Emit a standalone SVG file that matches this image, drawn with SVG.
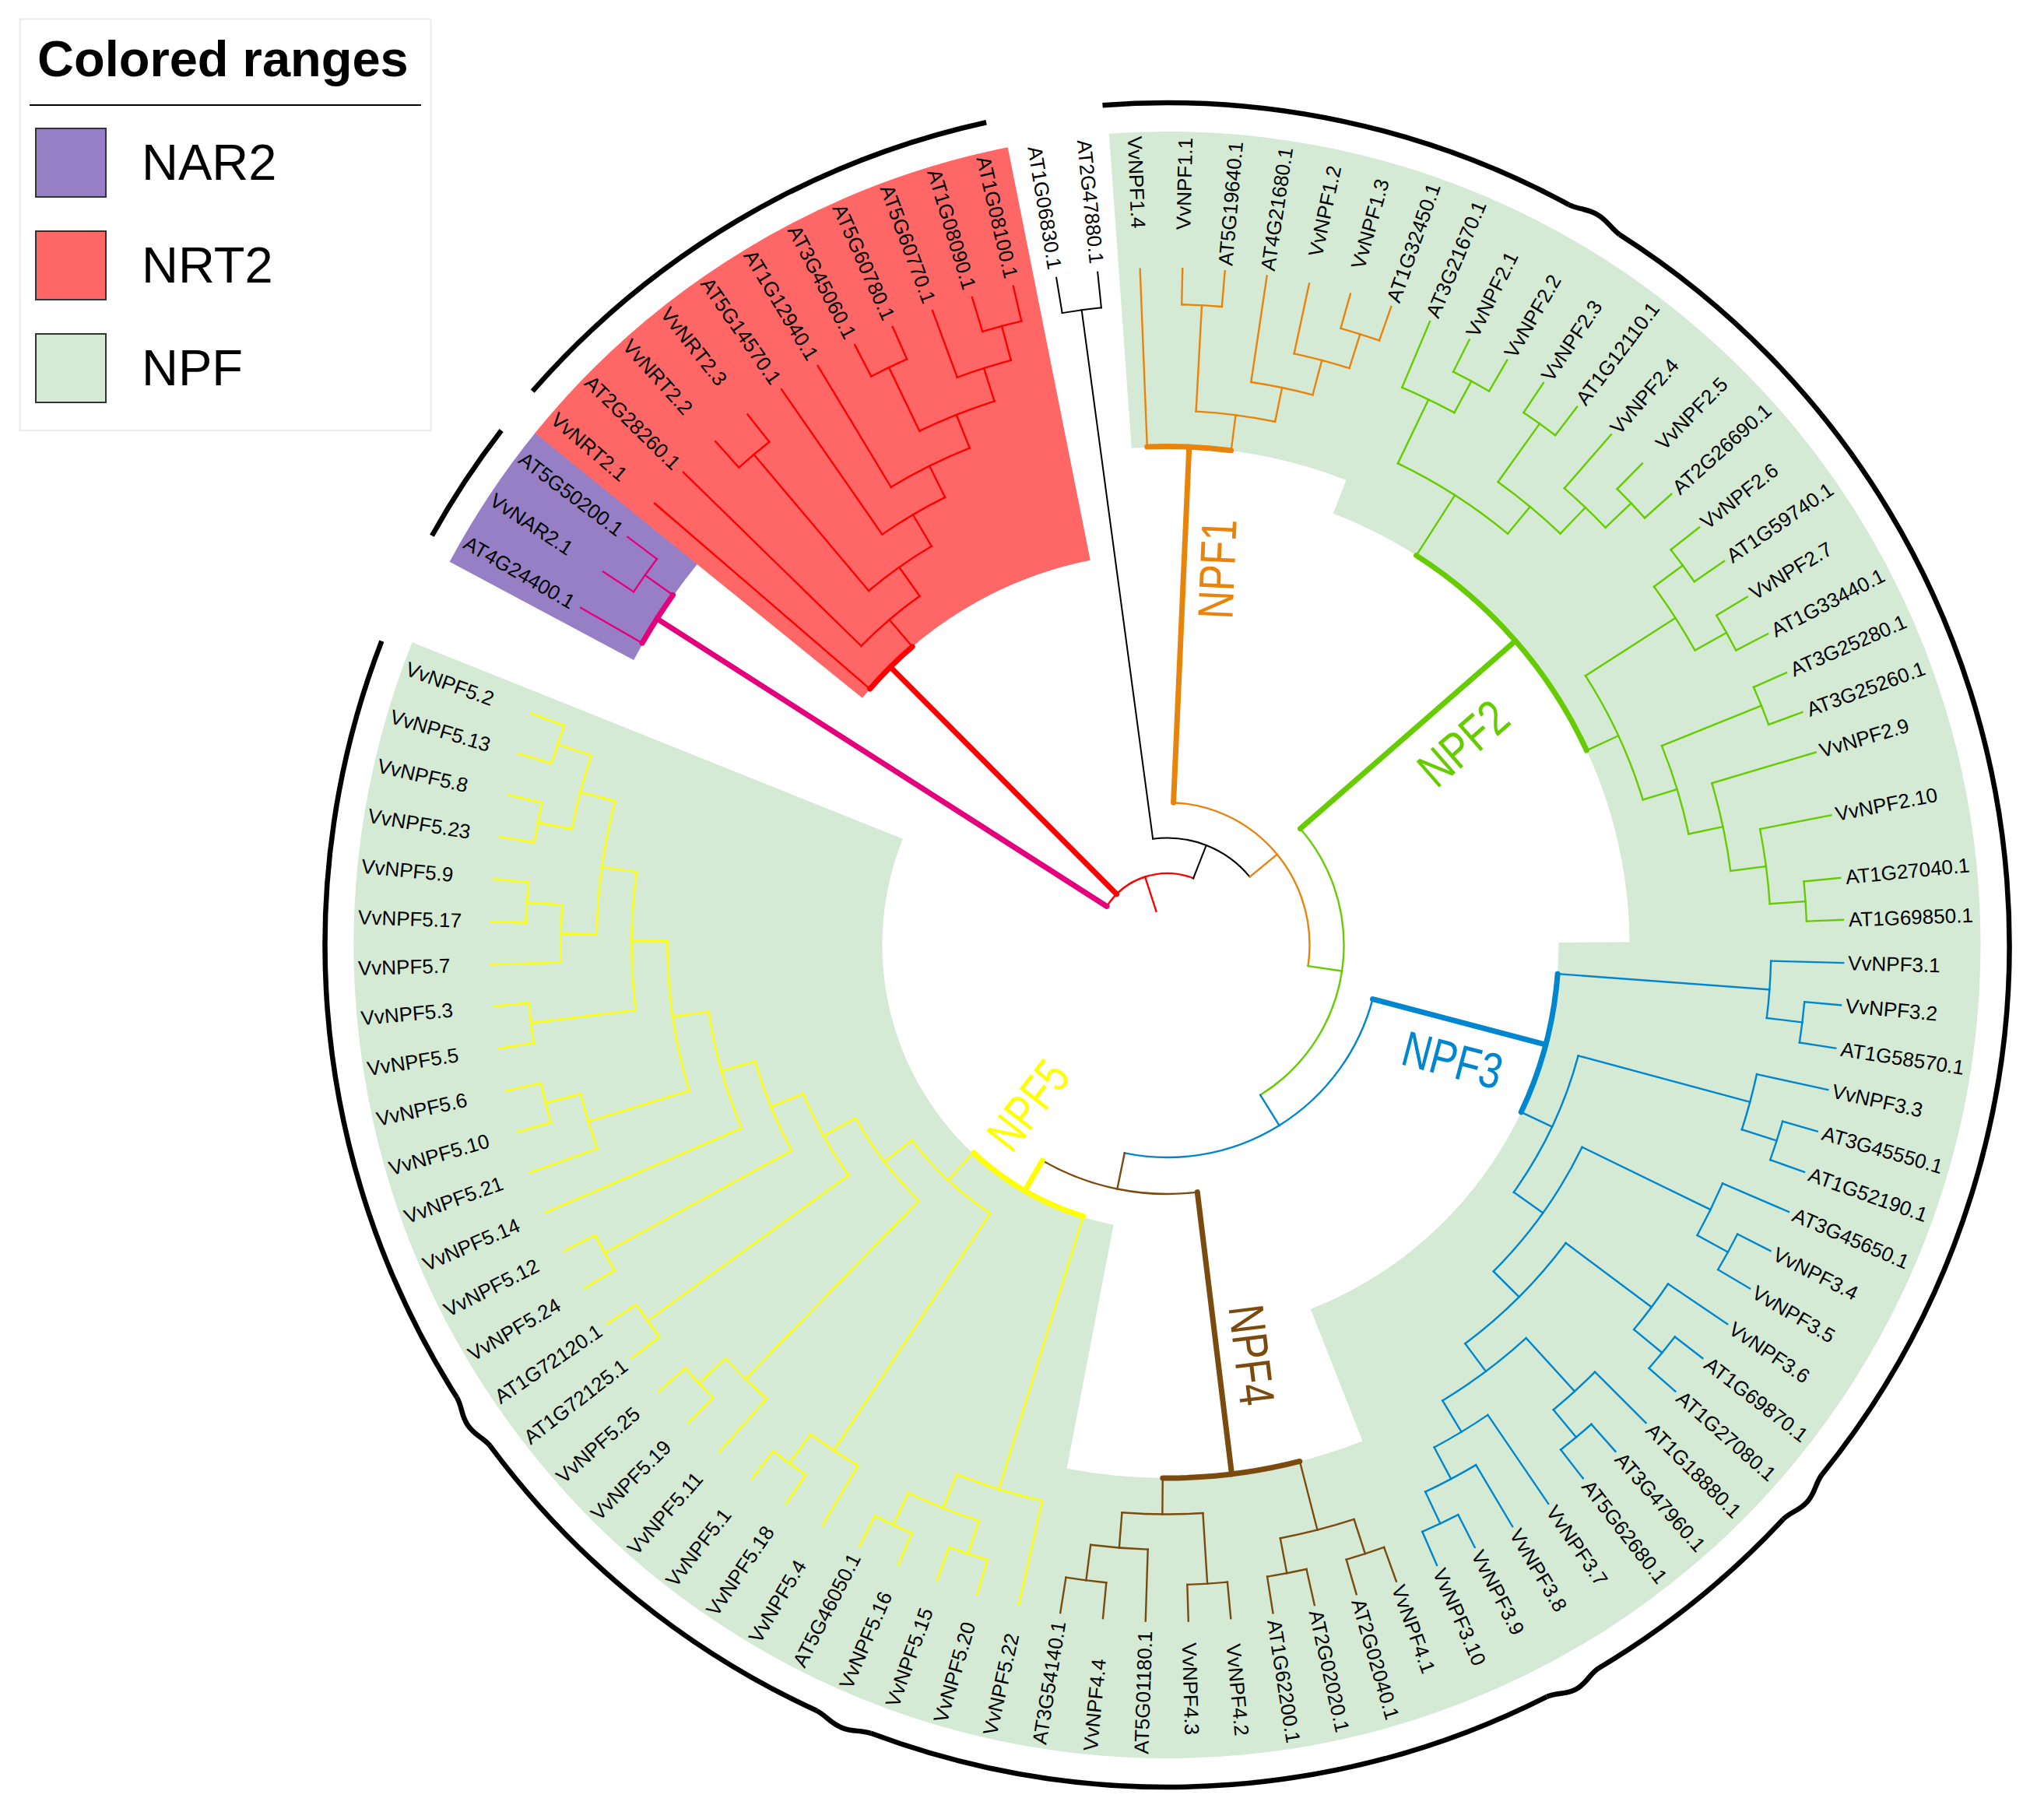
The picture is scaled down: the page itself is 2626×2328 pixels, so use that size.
<svg xmlns="http://www.w3.org/2000/svg" width="2626" height="2328" viewBox="0 0 2626 2328">
<style>
text{font-family:"Liberation Sans",Arial,Helvetica,sans-serif}
.lb text{font-size:26px;dominant-baseline:central;fill:#000}
.cl{font-size:64px;text-anchor:middle;dominant-baseline:central}
.k{stroke-width:7px;stroke-linecap:round}
</style>
<rect width="2626" height="2328" fill="#fff"/>
<g id="legend">
<rect x="25.5" y="24.5" width="528" height="528.5" fill="#fff" stroke="#ebebeb" stroke-width="2"/>
<text x="48" y="98" font-size="65" font-weight="bold">Colored ranges</text>
<line x1="38" y1="135" x2="541" y2="135" stroke="#000" stroke-width="2"/>
<rect x="46" y="165" width="90" height="88" fill="#977fc6" stroke="#333" stroke-width="2"/>
<text x="182" y="231" font-size="65">NAR2</text>
<rect x="46" y="297" width="90" height="88" fill="#ff6666" stroke="#333" stroke-width="2"/>
<text x="182" y="363" font-size="65">NRT2</text>
<rect x="46" y="429" width="90" height="88" fill="#d4ead4" stroke="#333" stroke-width="2"/>
<text x="182" y="495" font-size="65">NPF</text>
</g>
<g id="tree" transform="translate(1499.5 1214)">
<g id="ranges" fill="none">
<circle r="911" stroke="#977fc6" stroke-width="268" pathLength="360" stroke-dasharray="10.95 360" transform="rotate(-151.9)"/>
<circle r="774.5" stroke="#ff6666" stroke-width="541" pathLength="360" stroke-dasharray="39.7 360" transform="rotate(-141)"/>
<circle r="842.5" stroke="#d4ead4" stroke-width="405" pathLength="360" stroke-dasharray="25.2 360" transform="rotate(-94.1)"/>
<circle r="819.5" stroke="#d4ead4" stroke-width="451" pathLength="360" stroke-dasharray="68.7 360" transform="rotate(-68.95)"/>
<circle r="774" stroke="#d4ead4" stroke-width="542" pathLength="360" stroke-dasharray="68.85 360" transform="rotate(-0.35)"/>
<circle r="865" stroke="#d4ead4" stroke-width="360" pathLength="360" stroke-dasharray="32.55 360" transform="rotate(68.4)"/>
<circle r="705.5" stroke="#d4ead4" stroke-width="679" pathLength="360" stroke-dasharray="101 360" transform="rotate(100.85)"/>
</g>
<g id="outer-arcs" fill="none" stroke="#000" stroke-width="6.5">
<circle r="1081" pathLength="360" stroke-dasharray="8.6 360" transform="rotate(-150.9)"/>
<circle r="1082" pathLength="360" stroke-dasharray="36.5 360" transform="rotate(-138.9)"/>
<circle r="1082" pathLength="360" stroke-dasharray="32.9 4 96.5 4 16.2 4 47.4 4 28.9 4 53.65 70" transform="rotate(-94.4)"/>
<path d="M1081.3,-37.8C1083,-22 1089,-16 1089,0C1089,16 1083,22 1081.3,37.8" transform="rotate(-59.5)"/>
<path d="M1081.3,-37.8C1083,-22 1090,-16 1090,0C1090,16 1083,22 1081.3,37.8" transform="rotate(41)"/>
<path d="M1081.3,-37.8C1083,-22 1091,-16 1091,0C1091,16 1083,22 1081.3,37.8" transform="rotate(61.2)"/>
<path d="M1081.3,-37.8C1083,-22 1089,-16 1089,0C1089,16 1083,22 1081.3,37.8" transform="rotate(112.6)"/>
<path d="M1081.3,-37.8C1083,-22 1090,-16 1090,0C1090,16 1083,22 1081.3,37.8" transform="rotate(145.5)"/>
</g>
<g id="connectors" fill="none" stroke-width="2.4" stroke-linecap="square">
<g id="br-root" stroke="#ff0000">
<circle r="92" pathLength="360" stroke-dasharray="78.82 360" transform="rotate(-147.4)"/>
<line x1="45.5" x2="92" transform="rotate(-108)"/>
<line class="k" x1="92" x2="504" transform="rotate(-134.88)"/>
<circle class="k" r="504" pathLength="360" stroke-dasharray="8.74 360" transform="rotate(-139.25)"/>
<line x1="504" x2="549.5" transform="rotate(-130.51)"/>
<circle r="549.5" pathLength="360" stroke-dasharray="10.32 360" transform="rotate(-135.67)"/>
<line x1="549.5" x2="595" transform="rotate(-125.35)"/>
<circle r="595" pathLength="360" stroke-dasharray="9.54 360" transform="rotate(-130.12)"/>
<line x1="595" x2="824" transform="rotate(-130.12)"/>
<circle r="824" pathLength="360" stroke-dasharray="3.55 360" transform="rotate(-131.89)"/>
<line x1="595" x2="642" transform="rotate(-120.58)"/>
<circle r="642" pathLength="360" stroke-dasharray="8.38 360" transform="rotate(-124.77)"/>
<line x1="642" x2="687" transform="rotate(-116.39)"/>
<circle r="687" pathLength="360" stroke-dasharray="9.42 360" transform="rotate(-121.1)"/>
<line x1="687" x2="733" transform="rotate(-111.68)"/>
<circle r="733" pathLength="360" stroke-dasharray="8.1 360" transform="rotate(-115.73)"/>
<line x1="733" x2="823.5" transform="rotate(-115.73)"/>
<circle r="823.5" pathLength="360" stroke-dasharray="3.55 360" transform="rotate(-117.5)"/>
<line x1="733" x2="777.5" transform="rotate(-107.63)"/>
<circle r="777.5" pathLength="360" stroke-dasharray="5.34 360" transform="rotate(-110.3)"/>
<line x1="777.5" x2="823" transform="rotate(-104.96)"/>
<circle r="823" pathLength="360" stroke-dasharray="3.61 360" transform="rotate(-106.76)"/>
<line x1="504" x2="869" transform="rotate(-139.25)"/>
<line x1="549.5" x2="869" transform="rotate(-135.67)"/>
<line x1="824" x2="869" transform="rotate(-131.89)"/>
<line x1="824" x2="869" transform="rotate(-128.34)"/>
<line x1="642" x2="869" transform="rotate(-124.77)"/>
<line x1="687" x2="869" transform="rotate(-121.1)"/>
<line x1="823.5" x2="869" transform="rotate(-117.5)"/>
<line x1="823.5" x2="869" transform="rotate(-113.95)"/>
<line x1="777.5" x2="869" transform="rotate(-110.3)"/>
<line x1="823" x2="869" transform="rotate(-106.76)"/>
<line x1="823" x2="869" transform="rotate(-103.15)"/>
</g>
<g id="br-nar2" stroke="#e4007c">
<line class="k" x1="92" x2="778" transform="rotate(-147.4)"/>
<circle class="k" r="778" pathLength="360" stroke-dasharray="5.4 360" transform="rotate(-150.1)"/>
<line x1="778" x2="822" transform="rotate(-144.7)"/>
<circle r="822" pathLength="360" stroke-dasharray="3.6 360" transform="rotate(-146.5)"/>
<line x1="778" x2="869" transform="rotate(-150.1)"/>
<line x1="822" x2="869" transform="rotate(-146.5)"/>
<line x1="822" x2="869" transform="rotate(-142.9)"/>
</g>
<g id="br-other" stroke="#000" stroke-width="2">
<line x1="92" x2="137.5" transform="rotate(-68.58)"/>
<circle r="137.5" pathLength="360" stroke-dasharray="58.19 360" transform="rotate(-97.67)"/>
<line x1="137.5" x2="823" transform="rotate(-97.67)"/>
<circle r="823" pathLength="360" stroke-dasharray="3.53 360" transform="rotate(-99.43)"/>
<line x1="823" x2="869" transform="rotate(-99.43)"/>
<line x1="823" x2="869" transform="rotate(-95.9)"/>
</g>
<g id="br-npf1" stroke="#e8830c">
<line x1="137.5" x2="183" transform="rotate(-39.48)"/>
<circle r="183" pathLength="360" stroke-dasharray="95.99 360" transform="rotate(-87.47)"/>
<line class="k" x1="183" x2="640.5" transform="rotate(-87.47)"/>
<circle class="k" r="640.5" pathLength="360" stroke-dasharray="9.67 360" transform="rotate(-92.3)"/>
<line x1="640.5" x2="686.4" transform="rotate(-82.63)"/>
<circle r="686.4" pathLength="360" stroke-dasharray="8.55 360" transform="rotate(-86.9)"/>
<line x1="686.4" x2="823" transform="rotate(-86.9)"/>
<circle r="823" pathLength="360" stroke-dasharray="3.6 360" transform="rotate(-88.7)"/>
<line x1="686.4" x2="731" transform="rotate(-78.35)"/>
<circle r="731" pathLength="360" stroke-dasharray="6.34 360" transform="rotate(-81.52)"/>
<line x1="731" x2="777" transform="rotate(-75.18)"/>
<circle r="777" pathLength="360" stroke-dasharray="5.41 360" transform="rotate(-77.88)"/>
<line x1="777" x2="823" transform="rotate(-72.47)"/>
<circle r="823" pathLength="360" stroke-dasharray="3.62 360" transform="rotate(-74.28)"/>
<line x1="640.5" x2="869" transform="rotate(-92.3)"/>
<line x1="823" x2="869" transform="rotate(-88.7)"/>
<line x1="823" x2="869" transform="rotate(-85.1)"/>
<line x1="731" x2="869" transform="rotate(-81.52)"/>
<line x1="777" x2="869" transform="rotate(-77.88)"/>
<line x1="823" x2="869" transform="rotate(-74.28)"/>
<line x1="823" x2="869" transform="rotate(-70.66)"/>
</g>
<g id="br-npf2" stroke="#66cc00">
<line x1="183" x2="227" transform="rotate(8.52)"/>
<circle r="227" pathLength="360" stroke-dasharray="99.3 360" transform="rotate(-41.13)"/>
<line class="k" x1="227" x2="594" transform="rotate(-41.13)"/>
<circle class="k" r="594" pathLength="360" stroke-dasharray="32.52 360" transform="rotate(-57.39)"/>
<line x1="594" x2="686" transform="rotate(-57.39)"/>
<circle r="686" pathLength="360" stroke-dasharray="14.03 360" transform="rotate(-64.4)"/>
<line x1="686" x2="777" transform="rotate(-64.4)"/>
<circle r="777" pathLength="360" stroke-dasharray="5.5 360" transform="rotate(-67.15)"/>
<line x1="777" x2="823" transform="rotate(-61.65)"/>
<circle r="823" pathLength="360" stroke-dasharray="3.64 360" transform="rotate(-63.47)"/>
<line x1="686" x2="731" transform="rotate(-50.37)"/>
<circle r="731" pathLength="360" stroke-dasharray="8.16 360" transform="rotate(-54.45)"/>
<line x1="731" x2="823" transform="rotate(-54.45)"/>
<circle r="823" pathLength="360" stroke-dasharray="3.5 360" transform="rotate(-56.2)"/>
<line x1="731" x2="777.5" transform="rotate(-46.29)"/>
<circle r="777.5" pathLength="360" stroke-dasharray="5.39 360" transform="rotate(-48.98)"/>
<line x1="777.5" x2="823" transform="rotate(-43.59)"/>
<circle r="823" pathLength="360" stroke-dasharray="3.58 360" transform="rotate(-45.38)"/>
<line x1="594" x2="639" transform="rotate(-24.87)"/>
<circle r="639" pathLength="360" stroke-dasharray="15.79 360" transform="rotate(-32.76)"/>
<line x1="639" x2="776.5" transform="rotate(-32.76)"/>
<circle r="776.5" pathLength="360" stroke-dasharray="7.18 360" transform="rotate(-36.35)"/>
<line x1="776.5" x2="822.5" transform="rotate(-36.35)"/>
<circle r="822.5" pathLength="360" stroke-dasharray="3.55 360" transform="rotate(-38.12)"/>
<line x1="776.5" x2="823" transform="rotate(-29.17)"/>
<circle r="823" pathLength="360" stroke-dasharray="3.58 360" transform="rotate(-30.96)"/>
<line x1="639" x2="685" transform="rotate(-16.97)"/>
<circle r="685" pathLength="360" stroke-dasharray="9.92 360" transform="rotate(-21.93)"/>
<line x1="685" x2="823" transform="rotate(-21.93)"/>
<circle r="823" pathLength="360" stroke-dasharray="3.61 360" transform="rotate(-23.73)"/>
<line x1="685" x2="730" transform="rotate(-12.01)"/>
<circle r="730" pathLength="360" stroke-dasharray="9.06 360" transform="rotate(-16.54)"/>
<line x1="730" x2="776" transform="rotate(-7.48)"/>
<circle r="776" pathLength="360" stroke-dasharray="7.16 360" transform="rotate(-11.06)"/>
<line x1="776" x2="822" transform="rotate(-3.9)"/>
<circle r="822" pathLength="360" stroke-dasharray="3.57 360" transform="rotate(-5.69)"/>
<line x1="777" x2="869" transform="rotate(-67.15)"/>
<line x1="823" x2="869" transform="rotate(-63.47)"/>
<line x1="823" x2="869" transform="rotate(-59.83)"/>
<line x1="823" x2="869" transform="rotate(-56.2)"/>
<line x1="823" x2="869" transform="rotate(-52.7)"/>
<line x1="777.5" x2="869" transform="rotate(-48.98)"/>
<line x1="823" x2="869" transform="rotate(-45.38)"/>
<line x1="823" x2="869" transform="rotate(-41.8)"/>
<line x1="822.5" x2="869" transform="rotate(-38.12)"/>
<line x1="822.5" x2="869" transform="rotate(-34.57)"/>
<line x1="823" x2="869" transform="rotate(-30.96)"/>
<line x1="823" x2="869" transform="rotate(-27.38)"/>
<line x1="823" x2="869" transform="rotate(-23.73)"/>
<line x1="823" x2="869" transform="rotate(-20.12)"/>
<line x1="730" x2="869" transform="rotate(-16.54)"/>
<line x1="776" x2="869" transform="rotate(-11.06)"/>
<line x1="822" x2="869" transform="rotate(-5.69)"/>
<line x1="822" x2="869" transform="rotate(-2.12)"/>
</g>
<g id="br-npf3" stroke="#0086cf">
<line x1="227" x2="273" transform="rotate(58.17)"/>
<circle r="273" pathLength="360" stroke-dasharray="86.79 360" transform="rotate(14.77)"/>
<line class="k" x1="273" x2="503" transform="rotate(14.77)"/>
<circle class="k" r="503" pathLength="360" stroke-dasharray="21.05 360" transform="rotate(4.24)"/>
<line x1="503" x2="776" transform="rotate(4.24)"/>
<circle r="776" pathLength="360" stroke-dasharray="5.43 360" transform="rotate(1.52)"/>
<line x1="776" x2="822" transform="rotate(6.95)"/>
<circle r="822" pathLength="360" stroke-dasharray="3.67 360" transform="rotate(5.11)"/>
<line x1="503" x2="547" transform="rotate(25.29)"/>
<circle r="547" pathLength="360" stroke-dasharray="20.41 360" transform="rotate(15.09)"/>
<line x1="547" x2="775.5" transform="rotate(15.09)"/>
<circle r="775.5" pathLength="360" stroke-dasharray="5.44 360" transform="rotate(12.37)"/>
<line x1="775.5" x2="822.5" transform="rotate(17.81)"/>
<circle r="822.5" pathLength="360" stroke-dasharray="3.62 360" transform="rotate(16)"/>
<line x1="547" x2="593" transform="rotate(35.5)"/>
<circle r="593" pathLength="360" stroke-dasharray="19.03 360" transform="rotate(25.98)"/>
<line x1="593" x2="776.5" transform="rotate(25.98)"/>
<circle r="776.5" pathLength="360" stroke-dasharray="5.47 360" transform="rotate(23.24)"/>
<line x1="776.5" x2="821.5" transform="rotate(28.71)"/>
<circle r="821.5" pathLength="360" stroke-dasharray="3.63 360" transform="rotate(26.89)"/>
<line x1="593" x2="639.5" transform="rotate(45.01)"/>
<circle r="639.5" pathLength="360" stroke-dasharray="16.44 360" transform="rotate(36.79)"/>
<line x1="639.5" x2="777" transform="rotate(36.79)"/>
<circle r="777" pathLength="360" stroke-dasharray="5.4 360" transform="rotate(34.09)"/>
<line x1="777" x2="824" transform="rotate(39.49)"/>
<circle r="824" pathLength="360" stroke-dasharray="3.63 360" transform="rotate(37.67)"/>
<line x1="639.5" x2="684" transform="rotate(53.23)"/>
<circle r="684" pathLength="360" stroke-dasharray="11.25 360" transform="rotate(47.61)"/>
<line x1="684" x2="776.5" transform="rotate(47.61)"/>
<circle r="776.5" pathLength="360" stroke-dasharray="5.33 360" transform="rotate(44.95)"/>
<line x1="776.5" x2="822.3" transform="rotate(50.28)"/>
<circle r="822.3" pathLength="360" stroke-dasharray="3.57 360" transform="rotate(48.49)"/>
<line x1="684" x2="731" transform="rotate(58.86)"/>
<circle r="731" pathLength="360" stroke-dasharray="6.31 360" transform="rotate(55.7)"/>
<line x1="731" x2="777" transform="rotate(62.01)"/>
<circle r="777" pathLength="360" stroke-dasharray="5.43 360" transform="rotate(59.3)"/>
<line x1="777" x2="822" transform="rotate(64.73)"/>
<circle r="822" pathLength="360" stroke-dasharray="3.55 360" transform="rotate(62.95)"/>
<line x1="776" x2="869" transform="rotate(1.52)"/>
<line x1="822" x2="869" transform="rotate(5.11)"/>
<line x1="822" x2="869" transform="rotate(8.78)"/>
<line x1="775.5" x2="869" transform="rotate(12.37)"/>
<line x1="822.5" x2="869" transform="rotate(16)"/>
<line x1="822.5" x2="869" transform="rotate(19.62)"/>
<line x1="776.5" x2="869" transform="rotate(23.24)"/>
<line x1="821.5" x2="869" transform="rotate(26.89)"/>
<line x1="821.5" x2="869" transform="rotate(30.52)"/>
<line x1="777" x2="869" transform="rotate(34.09)"/>
<line x1="824" x2="869" transform="rotate(37.67)"/>
<line x1="824" x2="869" transform="rotate(41.3)"/>
<line x1="776.5" x2="869" transform="rotate(44.95)"/>
<line x1="822.3" x2="869" transform="rotate(48.49)"/>
<line x1="822.3" x2="869" transform="rotate(52.06)"/>
<line x1="731" x2="869" transform="rotate(55.7)"/>
<line x1="777" x2="869" transform="rotate(59.3)"/>
<line x1="822" x2="869" transform="rotate(62.95)"/>
<line x1="822" x2="869" transform="rotate(66.5)"/>
</g>
<g id="br-npf4" stroke="#7b4a0e">
<line x1="273" x2="320" transform="rotate(101.56)"/>
<circle r="320" pathLength="360" stroke-dasharray="37.04 360" transform="rotate(83.04)"/>
<line class="k" x1="320" x2="685" transform="rotate(83.04)"/>
<circle class="k" r="685" pathLength="360" stroke-dasharray="14.88 360" transform="rotate(75.6)"/>
<line x1="685" x2="776" transform="rotate(75.6)"/>
<circle r="776" pathLength="360" stroke-dasharray="7.23 360" transform="rotate(71.98)"/>
<line x1="776" x2="822.5" transform="rotate(71.98)"/>
<circle r="822.5" pathLength="360" stroke-dasharray="3.55 360" transform="rotate(70.2)"/>
<line x1="776" x2="821.7" transform="rotate(79.21)"/>
<circle r="821.7" pathLength="360" stroke-dasharray="3.58 360" transform="rotate(77.42)"/>
<line x1="685" x2="731.5" transform="rotate(90.48)"/>
<circle r="731.5" pathLength="360" stroke-dasharray="8.15 360" transform="rotate(86.4)"/>
<line x1="731.5" x2="822.3" transform="rotate(86.4)"/>
<circle r="822.3" pathLength="360" stroke-dasharray="3.6 360" transform="rotate(84.6)"/>
<line x1="731.5" x2="777" transform="rotate(94.55)"/>
<circle r="777" pathLength="360" stroke-dasharray="5.44 360" transform="rotate(91.83)"/>
<line x1="777" x2="823" transform="rotate(97.27)"/>
<circle r="823" pathLength="360" stroke-dasharray="3.64 360" transform="rotate(95.45)"/>
<line x1="822.5" x2="869" transform="rotate(70.2)"/>
<line x1="822.5" x2="869" transform="rotate(73.75)"/>
<line x1="821.7" x2="869" transform="rotate(77.42)"/>
<line x1="821.7" x2="869" transform="rotate(81)"/>
<line x1="822.3" x2="869" transform="rotate(84.6)"/>
<line x1="822.3" x2="869" transform="rotate(88.2)"/>
<line x1="777" x2="869" transform="rotate(91.83)"/>
<line x1="823" x2="869" transform="rotate(95.45)"/>
<line x1="823" x2="869" transform="rotate(99.09)"/>
</g>
<g id="br-npf5" stroke="#ffff00">
<line class="k" x1="320" x2="365" transform="rotate(120.08)"/>
<circle class="k" r="365" pathLength="360" stroke-dasharray="25.8 360" transform="rotate(107.18)"/>
<line x1="365" x2="732" transform="rotate(107.18)"/>
<circle r="732" pathLength="360" stroke-dasharray="9.02 360" transform="rotate(102.67)"/>
<line x1="732" x2="778.5" transform="rotate(111.69)"/>
<circle r="778.5" pathLength="360" stroke-dasharray="7.18 360" transform="rotate(108.1)"/>
<line x1="778.5" x2="823" transform="rotate(108.1)"/>
<circle r="823" pathLength="360" stroke-dasharray="3.6 360" transform="rotate(106.3)"/>
<line x1="778.5" x2="824" transform="rotate(115.28)"/>
<circle r="824" pathLength="360" stroke-dasharray="3.65 360" transform="rotate(113.45)"/>
<line x1="365" x2="413" transform="rotate(132.98)"/>
<circle r="413" pathLength="360" stroke-dasharray="19.15 360" transform="rotate(123.4)"/>
<line x1="413" x2="778" transform="rotate(123.4)"/>
<circle r="778" pathLength="360" stroke-dasharray="5.39 360" transform="rotate(120.7)"/>
<line x1="778" x2="824" transform="rotate(126.09)"/>
<circle r="824" pathLength="360" stroke-dasharray="3.58 360" transform="rotate(124.3)"/>
<line x1="413" x2="458" transform="rotate(142.55)"/>
<circle r="458" pathLength="360" stroke-dasharray="16.78 360" transform="rotate(134.16)"/>
<line x1="458" x2="777.5" transform="rotate(134.16)"/>
<circle r="777.5" pathLength="360" stroke-dasharray="5.43 360" transform="rotate(131.45)"/>
<line x1="777.5" x2="824" transform="rotate(136.88)"/>
<circle r="824" pathLength="360" stroke-dasharray="3.65 360" transform="rotate(135.05)"/>
<line x1="458" x2="505" transform="rotate(150.94)"/>
<circle r="505" pathLength="360" stroke-dasharray="13.64 360" transform="rotate(144.12)"/>
<line x1="505" x2="824" transform="rotate(144.12)"/>
<circle r="824" pathLength="360" stroke-dasharray="3.57 360" transform="rotate(142.33)"/>
<line x1="505" x2="550" transform="rotate(157.76)"/>
<circle r="550" pathLength="360" stroke-dasharray="12.92 360" transform="rotate(151.3)"/>
<line x1="550" x2="824" transform="rotate(151.3)"/>
<circle r="824" pathLength="360" stroke-dasharray="3.6 360" transform="rotate(149.5)"/>
<line x1="550" x2="595" transform="rotate(164.22)"/>
<circle r="595" pathLength="360" stroke-dasharray="15.03 360" transform="rotate(156.7)"/>
<line x1="595" x2="642" transform="rotate(171.73)"/>
<circle r="642" pathLength="360" stroke-dasharray="17.38 360" transform="rotate(163.04)"/>
<line x1="642" x2="777.5" transform="rotate(163.04)"/>
<circle r="777.5" pathLength="360" stroke-dasharray="5.41 360" transform="rotate(160.33)"/>
<line x1="777.5" x2="824" transform="rotate(165.74)"/>
<circle r="824" pathLength="360" stroke-dasharray="3.62 360" transform="rotate(163.93)"/>
<line x1="642" x2="688" transform="rotate(180.42)"/>
<circle r="688" pathLength="360" stroke-dasharray="14.84 360" transform="rotate(173)"/>
<line x1="688" x2="823.5" transform="rotate(173)"/>
<circle r="823.5" pathLength="360" stroke-dasharray="3.61 360" transform="rotate(171.19)"/>
<line x1="688" x2="733" transform="rotate(187.84)"/>
<circle r="733" pathLength="360" stroke-dasharray="13.53 360" transform="rotate(181.07)"/>
<line x1="733" x2="779" transform="rotate(181.07)"/>
<circle r="779" pathLength="360" stroke-dasharray="5.45 360" transform="rotate(178.34)"/>
<line x1="779" x2="824.5" transform="rotate(183.79)"/>
<circle r="824.5" pathLength="360" stroke-dasharray="3.63 360" transform="rotate(181.97)"/>
<line x1="733" x2="779" transform="rotate(194.6)"/>
<circle r="779" pathLength="360" stroke-dasharray="7.21 360" transform="rotate(191.01)"/>
<line x1="779" x2="823.6" transform="rotate(191.01)"/>
<circle r="823.6" pathLength="360" stroke-dasharray="3.62 360" transform="rotate(189.2)"/>
<line x1="779" x2="824.5" transform="rotate(198.22)"/>
<circle r="824.5" pathLength="360" stroke-dasharray="3.57 360" transform="rotate(196.43)"/>
<line x1="732" x2="869" transform="rotate(102.67)"/>
<line x1="823" x2="869" transform="rotate(106.3)"/>
<line x1="823" x2="869" transform="rotate(109.9)"/>
<line x1="824" x2="869" transform="rotate(113.45)"/>
<line x1="824" x2="869" transform="rotate(117.1)"/>
<line x1="778" x2="869" transform="rotate(120.7)"/>
<line x1="824" x2="869" transform="rotate(124.3)"/>
<line x1="824" x2="869" transform="rotate(127.88)"/>
<line x1="777.5" x2="869" transform="rotate(131.45)"/>
<line x1="824" x2="869" transform="rotate(135.05)"/>
<line x1="824" x2="869" transform="rotate(138.7)"/>
<line x1="824" x2="869" transform="rotate(142.33)"/>
<line x1="824" x2="869" transform="rotate(145.9)"/>
<line x1="824" x2="869" transform="rotate(149.5)"/>
<line x1="824" x2="869" transform="rotate(153.1)"/>
<line x1="595" x2="869" transform="rotate(156.7)"/>
<line x1="777.5" x2="869" transform="rotate(160.33)"/>
<line x1="824" x2="869" transform="rotate(163.93)"/>
<line x1="824" x2="869" transform="rotate(167.55)"/>
<line x1="823.5" x2="869" transform="rotate(171.19)"/>
<line x1="823.5" x2="869" transform="rotate(174.8)"/>
<line x1="779" x2="869" transform="rotate(178.34)"/>
<line x1="824.5" x2="869" transform="rotate(181.97)"/>
<line x1="824.5" x2="869" transform="rotate(185.6)"/>
<line x1="823.6" x2="869" transform="rotate(189.2)"/>
<line x1="823.6" x2="869" transform="rotate(192.82)"/>
<line x1="824.5" x2="869" transform="rotate(196.43)"/>
<line x1="824.5" x2="869" transform="rotate(200)"/>
</g>
</g>
<g id="leaves" class="lb">
<g id="leaf-AT4G24400-1"><text transform="rotate(-150.1) translate(1040 0) rotate(180)">AT4G24400.1</text></g>
<g id="leaf-VvNAR2-1"><text transform="rotate(-146.5) translate(1040 0) rotate(180)">VvNAR2.1</text></g>
<g id="leaf-AT5G50200-1"><text transform="rotate(-142.9) translate(1040 0) rotate(180)">AT5G50200.1</text></g>
<g id="leaf-VvNRT2-1"><text transform="rotate(-139.25) translate(1040 0) rotate(180)">VvNRT2.1</text></g>
<g id="leaf-AT2G28260-1"><text transform="rotate(-135.67) translate(1040 0) rotate(180)">AT2G28260.1</text></g>
<g id="leaf-VvNRT2-2"><text transform="rotate(-131.89) translate(1040 0) rotate(180)">VvNRT2.2</text></g>
<g id="leaf-VvNRT2-3"><text transform="rotate(-128.34) translate(1040 0) rotate(180)">VvNRT2.3</text></g>
<g id="leaf-AT5G14570-1"><text transform="rotate(-124.77) translate(1040 0) rotate(180)">AT5G14570.1</text></g>
<g id="leaf-AT1G12940-1"><text transform="rotate(-121.1) translate(1040 0) rotate(180)">AT1G12940.1</text></g>
<g id="leaf-AT3G45060-1"><text transform="rotate(-117.5) translate(1040 0) rotate(180)">AT3G45060.1</text></g>
<g id="leaf-AT5G60780-1"><text transform="rotate(-113.95) translate(1040 0) rotate(180)">AT5G60780.1</text></g>
<g id="leaf-AT5G60770-1"><text transform="rotate(-110.3) translate(1040 0) rotate(180)">AT5G60770.1</text></g>
<g id="leaf-AT1G08090-1"><text transform="rotate(-106.76) translate(1040 0) rotate(180)">AT1G08090.1</text></g>
<g id="leaf-AT1G08100-1"><text transform="rotate(-103.15) translate(1040 0) rotate(180)">AT1G08100.1</text></g>
<g id="leaf-AT1G06830-1"><text transform="rotate(-99.43) translate(1040 0) rotate(180)">AT1G06830.1</text></g>
<g id="leaf-AT2G47880-1"><text transform="rotate(-95.9) translate(1040 0) rotate(180)">AT2G47880.1</text></g>
<g id="leaf-VvNPF1-4"><text transform="rotate(-92.3) translate(1040 0) rotate(180)">VvNPF1.4</text></g>
<g id="leaf-VvNPF1-1"><text transform="rotate(-88.7) translate(919 0)">VvNPF1.1</text></g>
<g id="leaf-AT5G19640-1"><text transform="rotate(-85.1) translate(876 0)">AT5G19640.1</text></g>
<g id="leaf-AT4G21680-1"><text transform="rotate(-81.52) translate(876 0)">AT4G21680.1</text></g>
<g id="leaf-VvNPF1-2"><text transform="rotate(-77.88) translate(905 0)">VvNPF1.2</text></g>
<g id="leaf-VvNPF1-3"><text transform="rotate(-74.28) translate(903 0)">VvNPF1.3</text></g>
<g id="leaf-AT1G32450-1"><text transform="rotate(-70.66) translate(876 0)">AT1G32450.1</text></g>
<g id="leaf-AT3G21670-1"><text transform="rotate(-67.15) translate(876 0)">AT3G21670.1</text></g>
<g id="leaf-VvNPF2-1"><text transform="rotate(-63.47) translate(875 0)">VvNPF2.1</text></g>
<g id="leaf-VvNPF2-2"><text transform="rotate(-59.83) translate(875 0)">VvNPF2.2</text></g>
<g id="leaf-VvNPF2-3"><text transform="rotate(-56.2) translate(875 0)">VvNPF2.3</text></g>
<g id="leaf-AT1G12110-1"><text transform="rotate(-52.7) translate(876 0)">AT1G12110.1</text></g>
<g id="leaf-VvNPF2-4"><text transform="rotate(-48.98) translate(875 0)">VvNPF2.4</text></g>
<g id="leaf-VvNPF2-5"><text transform="rotate(-45.38) translate(900 0)">VvNPF2.5</text></g>
<g id="leaf-AT2G26690-1"><text transform="rotate(-41.8) translate(876 0)">AT2G26690.1</text></g>
<g id="leaf-VvNPF2-6"><text transform="rotate(-38.12) translate(875 0)">VvNPF2.6</text></g>
<g id="leaf-AT1G59740-1"><text transform="rotate(-34.57) translate(876 0)">AT1G59740.1</text></g>
<g id="leaf-VvNPF2-7"><text transform="rotate(-30.96) translate(875 0)">VvNPF2.7</text></g>
<g id="leaf-AT1G33440-1"><text transform="rotate(-27.38) translate(876 0)">AT1G33440.1</text></g>
<g id="leaf-AT3G25280-1"><text transform="rotate(-23.73) translate(876 0)">AT3G25280.1</text></g>
<g id="leaf-AT3G25260-1"><text transform="rotate(-20.12) translate(876 0)">AT3G25260.1</text></g>
<g id="leaf-VvNPF2-9"><text transform="rotate(-16.54) translate(875 0)">VvNPF2.9</text></g>
<g id="leaf-VvNPF2-10"><text transform="rotate(-11.06) translate(875 0)">VvNPF2.10</text></g>
<g id="leaf-AT1G27040-1"><text transform="rotate(-5.69) translate(876 0)">AT1G27040.1</text></g>
<g id="leaf-AT1G69850-1"><text transform="rotate(-2.12) translate(876 0)">AT1G69850.1</text></g>
<g id="leaf-VvNPF3-1"><text transform="rotate(1.52) translate(875 0)">VvNPF3.1</text></g>
<g id="leaf-VvNPF3-2"><text transform="rotate(5.11) translate(875 0)">VvNPF3.2</text></g>
<g id="leaf-AT1G58570-1"><text transform="rotate(8.78) translate(876 0)">AT1G58570.1</text></g>
<g id="leaf-VvNPF3-3"><text transform="rotate(12.37) translate(875 0)">VvNPF3.3</text></g>
<g id="leaf-AT3G45550-1"><text transform="rotate(16) translate(876 0)">AT3G45550.1</text></g>
<g id="leaf-AT1G52190-1"><text transform="rotate(19.62) translate(876 0)">AT1G52190.1</text></g>
<g id="leaf-AT3G45650-1"><text transform="rotate(23.24) translate(876 0)">AT3G45650.1</text></g>
<g id="leaf-VvNPF3-4"><text transform="rotate(26.89) translate(875 0)">VvNPF3.4</text></g>
<g id="leaf-VvNPF3-5"><text transform="rotate(30.52) translate(875 0)">VvNPF3.5</text></g>
<g id="leaf-VvNPF3-6"><text transform="rotate(34.09) translate(875 0)">VvNPF3.6</text></g>
<g id="leaf-AT1G69870-1"><text transform="rotate(37.67) translate(876 0)">AT1G69870.1</text></g>
<g id="leaf-AT1G27080-1"><text transform="rotate(41.3) translate(876 0)">AT1G27080.1</text></g>
<g id="leaf-AT1G18880-1"><text transform="rotate(44.95) translate(876 0)">AT1G18880.1</text></g>
<g id="leaf-AT3G47960-1"><text transform="rotate(48.49) translate(876 0)">AT3G47960.1</text></g>
<g id="leaf-AT5G62680-1"><text transform="rotate(52.06) translate(876 0)">AT5G62680.1</text></g>
<g id="leaf-VvNPF3-7"><text transform="rotate(55.7) translate(875 0)">VvNPF3.7</text></g>
<g id="leaf-VvNPF3-8"><text transform="rotate(59.3) translate(875 0)">VvNPF3.8</text></g>
<g id="leaf-VvNPF3-9"><text transform="rotate(62.95) translate(875 0)">VvNPF3.9</text></g>
<g id="leaf-VvNPF3-10"><text transform="rotate(66.5) translate(875 0)">VvNPF3.10</text></g>
<g id="leaf-VvNPF4-1"><text transform="rotate(70.2) translate(875 0)">VvNPF4.1</text></g>
<g id="leaf-AT2G02040-1"><text transform="rotate(73.75) translate(876 0)">AT2G02040.1</text></g>
<g id="leaf-AT2G02020-1"><text transform="rotate(77.42) translate(876 0)">AT2G02020.1</text></g>
<g id="leaf-AT1G62200-1"><text transform="rotate(81) translate(878 0)">AT1G62200.1</text></g>
<g id="leaf-VvNPF4-2"><text transform="rotate(84.6) translate(902 0)">VvNPF4.2</text></g>
<g id="leaf-VvNPF4-3"><text transform="rotate(88.2) translate(897 0)">VvNPF4.3</text></g>
<g id="leaf-AT5G01180-1"><text transform="rotate(91.83) translate(1040 0) rotate(180)">AT5G01180.1</text></g>
<g id="leaf-VvNPF4-4"><text transform="rotate(95.45) translate(1040 0) rotate(180)">VvNPF4.4</text></g>
<g id="leaf-AT3G54140-1"><text transform="rotate(99.09) translate(1040 0) rotate(180)">AT3G54140.1</text></g>
<g id="leaf-VvNPF5-22"><text transform="rotate(102.67) translate(1040 0) rotate(180)">VvNPF5.22</text></g>
<g id="leaf-VvNPF5-20"><text transform="rotate(106.3) translate(1040 0) rotate(180)">VvNPF5.20</text></g>
<g id="leaf-VvNPF5-15"><text transform="rotate(109.9) translate(1040 0) rotate(180)">VvNPF5.15</text></g>
<g id="leaf-VvNPF5-16"><text transform="rotate(113.45) translate(1040 0) rotate(180)">VvNPF5.16</text></g>
<g id="leaf-AT5G46050-1"><text transform="rotate(117.1) translate(1040 0) rotate(180)">AT5G46050.1</text></g>
<g id="leaf-VvNPF5-4"><text transform="rotate(120.7) translate(1040 0) rotate(180)">VvNPF5.4</text></g>
<g id="leaf-VvNPF5-18"><text transform="rotate(124.3) translate(1040 0) rotate(180)">VvNPF5.18</text></g>
<g id="leaf-VvNPF5-1"><text transform="rotate(127.88) translate(1040 0) rotate(180)">VvNPF5.1</text></g>
<g id="leaf-VvNPF5-11"><text transform="rotate(131.45) translate(1040 0) rotate(180)">VvNPF5.11</text></g>
<g id="leaf-VvNPF5-19"><text transform="rotate(135.05) translate(1040 0) rotate(180)">VvNPF5.19</text></g>
<g id="leaf-VvNPF5-25"><text transform="rotate(138.7) translate(1040 0) rotate(180)">VvNPF5.25</text></g>
<g id="leaf-AT1G72125-1"><text transform="rotate(142.33) translate(1040 0) rotate(180)">AT1G72125.1</text></g>
<g id="leaf-AT1G72120-1"><text transform="rotate(145.9) translate(1040 0) rotate(180)">AT1G72120.1</text></g>
<g id="leaf-VvNPF5-24"><text transform="rotate(149.5) translate(1040 0) rotate(180)">VvNPF5.24</text></g>
<g id="leaf-VvNPF5-12"><text transform="rotate(153.1) translate(1040 0) rotate(180)">VvNPF5.12</text></g>
<g id="leaf-VvNPF5-14"><text transform="rotate(156.7) translate(1040 0) rotate(180)">VvNPF5.14</text></g>
<g id="leaf-VvNPF5-21"><text transform="rotate(160.33) translate(1040 0) rotate(180)">VvNPF5.21</text></g>
<g id="leaf-VvNPF5-10"><text transform="rotate(163.93) translate(1040 0) rotate(180)">VvNPF5.10</text></g>
<g id="leaf-VvNPF5-6"><text transform="rotate(167.55) translate(1040 0) rotate(180)">VvNPF5.6</text></g>
<g id="leaf-VvNPF5-5"><text transform="rotate(171.19) translate(1040 0) rotate(180)">VvNPF5.5</text></g>
<g id="leaf-VvNPF5-3"><text transform="rotate(174.8) translate(1040 0) rotate(180)">VvNPF5.3</text></g>
<g id="leaf-VvNPF5-7"><text transform="rotate(178.34) translate(1040 0) rotate(180)">VvNPF5.7</text></g>
<g id="leaf-VvNPF5-17"><text transform="rotate(181.97) translate(1040 0) rotate(180)">VvNPF5.17</text></g>
<g id="leaf-VvNPF5-9"><text transform="rotate(185.6) translate(1040 0) rotate(180)">VvNPF5.9</text></g>
<g id="leaf-VvNPF5-23"><text transform="rotate(189.2) translate(1040 0) rotate(180)">VvNPF5.23</text></g>
<g id="leaf-VvNPF5-8"><text transform="rotate(192.82) translate(1040 0) rotate(180)">VvNPF5.8</text></g>
<g id="leaf-VvNPF5-13"><text transform="rotate(196.43) translate(1040 0) rotate(180)">VvNPF5.13</text></g>
<g id="leaf-VvNPF5-2"><text transform="rotate(200) translate(1040 0) rotate(180)">VvNPF5.2</text></g>
</g>
</g>
<g id="clade-labels">
<text class="cl" fill="#e8830c" textLength="128" lengthAdjust="spacingAndGlyphs" transform="translate(1564 731) rotate(-87.47)">NPF1</text>
<text class="cl" fill="#66cc00" textLength="130" lengthAdjust="spacingAndGlyphs" transform="translate(1880 955) rotate(-41.13)">NPF2</text>
<text class="cl" fill="#0086cf" textLength="130" lengthAdjust="spacingAndGlyphs" transform="translate(1866 1362) rotate(14.77)">NPF3</text>
<text class="cl" fill="#7b4a0e" textLength="130" lengthAdjust="spacingAndGlyphs" transform="translate(1608 1741) rotate(83.04)">NPF4</text>
<text class="cl" fill="#ffff00" textLength="126" lengthAdjust="spacingAndGlyphs" transform="translate(1321 1420) rotate(-52)">NPF5</text>
</g>
</svg>
